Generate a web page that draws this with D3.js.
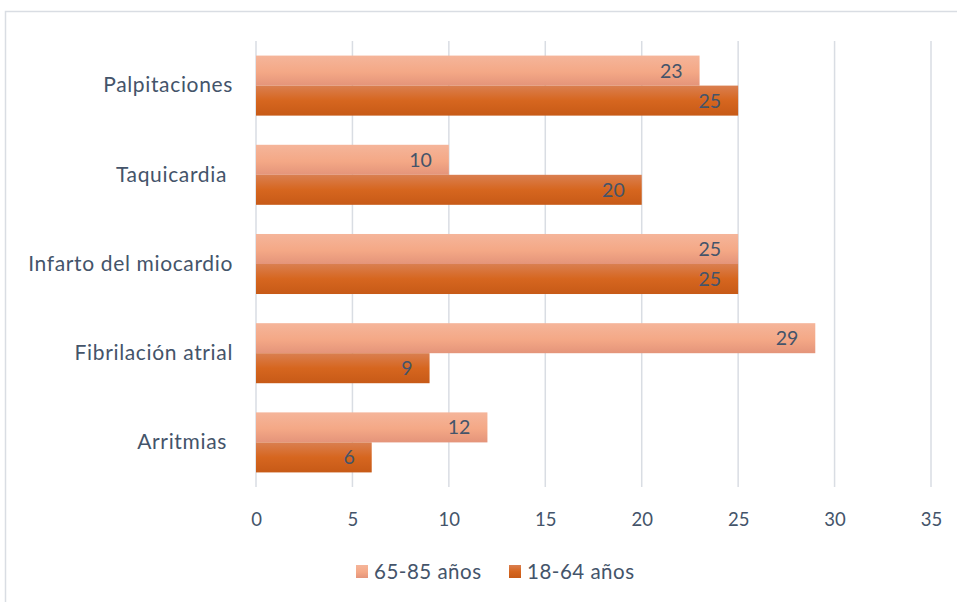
<!DOCTYPE html>
<html><head><meta charset="utf-8">
<script src="https://cdn.jsdelivr.net/npm/d3@7/dist/d3.min.js"></script>
<style>body{margin:0;background:#fff}svg{display:block}</style>
</head><body><svg id="c" width="957" height="602"></svg>
<script>
const categories = ["Palpitaciones","Taquicardia ","Infarto del miocardio","Fibrilación atrial","Arritmias "];
const seriesNames = ["65-85 años","18-64 años"];
const older = [23,10,25,29,12];
const younger = [25,20,25,9,6];
const xTicks = [0,5,10,15,20,25,30,35];

const svg = d3.select("#c");
const font = "Lato, 'Open Sans', sans-serif";
const textColor = "#44546a";
const gridColor = "#d9dde3";

// border
svg.append("path").attr("d","M5.5,602 V11.5 H957").attr("fill","none").attr("stroke",gridColor).attr("stroke-width",1.5);

const defs = svg.append("defs");
const g1 = defs.append("linearGradient").attr("id","gLight").attr("x1",0).attr("y1",0).attr("x2",0).attr("y2",1);
[[0,"#f5b59a"],[0.55,"#f4a886"],[1,"#e4947a"]].forEach(s=>g1.append("stop").attr("offset",s[0]).attr("stop-color",s[1]));
const g2 = defs.append("linearGradient").attr("id","gDark").attr("x1",0).attr("y1",0).attr("x2",0).attr("y2",1);
[[0,"#da7f50"],[0.5,"#d6661f"],[1,"#c75a17"]].forEach(s=>g2.append("stop").attr("offset",s[0]).attr("stop-color",s[1]));

const x = d3.scaleLinear().domain([0,35]).range([256,931]);
const y = d3.scaleBand().domain(categories).range([41,487]).paddingInner(0.327).paddingOuter(0.1635);
const ySub = d3.scaleBand().domain(seriesNames).range([0,y.bandwidth()]);

// gridlines
svg.append("g").selectAll("line").data(xTicks).join("line")
  .attr("x1",d=>x(d)).attr("x2",d=>x(d)).attr("y1",41).attr("y2",487)
  .attr("stroke",gridColor).attr("stroke-width",1.5);

// x axis tick labels
const xAxis = d3.axisBottom(x).tickValues(xTicks).tickSize(0).tickPadding(0);
const xg = svg.append("g").attr("transform","translate(0,512.5)").call(xAxis);
xg.select(".domain").remove();
xg.selectAll("text").attr("fill",textColor).attr("font-family",font).attr("font-size",18.5).attr("dy","0.71em");

// y axis labels
const yAxis = d3.axisLeft(y).tickSize(0).tickPadding(0);
const yg = svg.append("g").attr("transform","translate(233,0)").call(yAxis);
yg.select(".domain").remove();
yg.selectAll("text").attr("fill",textColor).attr("font-family",font).attr("font-size",21)
  .attr("letter-spacing",0.65).style("white-space","pre");

const data = categories.map((c,i)=>({c, vals:[{s:seriesNames[0],v:older[i]},{s:seriesNames[1],v:younger[i]}]}));
const fills = {"65-85 años":"url(#gLight)","18-64 años":"url(#gDark)"};

const groups = svg.append("g").selectAll("g").data(data).join("g")
  .attr("transform",d=>`translate(0,${y(d.c)})`);
groups.selectAll("rect").data(d=>d.vals).join("rect")
  .attr("x",x(0)).attr("y",d=>ySub(d.s)).attr("width",d=>x(d.v)-x(0)).attr("height",ySub.bandwidth())
  .attr("fill",d=>fills[d.s]);
groups.selectAll("text").data(d=>d.vals).join("text")
  .attr("x",d=>x(d.v)-17).attr("y",d=>ySub(d.s)+ySub.bandwidth()/2).attr("dy","0.36em")
  .attr("text-anchor","end").attr("fill",textColor).attr("font-family",font).attr("font-size",19.5)
  .text(d=>d.v);

// legend
const legendX = [356,509];
const lg = svg.append("g").selectAll("g").data(seriesNames).join("g")
  .attr("transform",(d,i)=>`translate(${legendX[i]},565)`);
lg.append("rect").attr("width",12).attr("height",13).attr("fill",d=>fills[d]);
lg.append("text").attr("x",18).attr("y",7).attr("dy","0.35em").attr("fill",textColor)
  .attr("font-family",font).attr("font-size",20.5).attr("letter-spacing",0.5).text(d=>d);
</script></body></html>
